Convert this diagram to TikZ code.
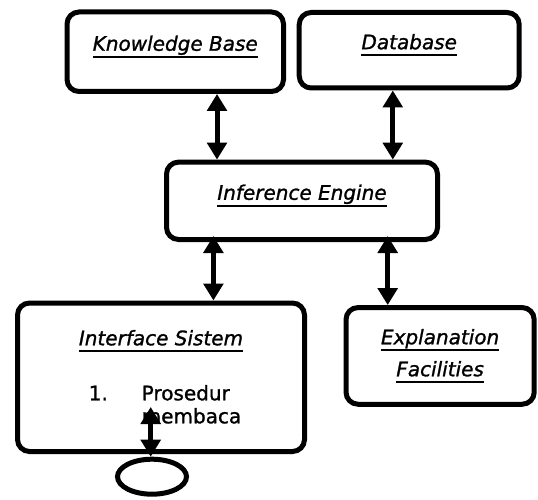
\documentclass[tikz,border=0pt]{standalone}
\usepackage{fontspec}
\setmainfont{DejaVu Sans}[FakeBold=1.2]
\usetikzlibrary{positioning, arrows.meta, shapes.geometric}

% italic title with a thick rule under it
\newsavebox\ulbox
\newlength\uldp
\newcommand{\uword}[1]{\leavevmode\sbox\ulbox{\itshape #1}%
  \setlength\uldp{\dp\ulbox}\ifdim\uldp<3.5pt\setlength\uldp{3.5pt}\fi
  \rlap{\rule[-\dimexpr\uldp+3pt\relax]{\wd\ulbox}{2pt}}\usebox\ulbox}

\begin{document}
\begin{tikzpicture}[
    x=1pt, y=-1pt,
    box/.style={rectangle, draw, line width=5pt, rounded corners=12pt,
                align=center, font=\fontsize{20}{23}\selectfont},
    head/.style={text height=15pt, text depth=17pt},
    arrow/.style={{Triangle[width=19.5pt,length=17pt]}-{Triangle[width=19.5pt,length=17pt]},
                  line width=5pt},
    ring/.style={ellipse, draw, line width=5pt}
]
  \useasboundingbox (0,0) rectangle (538,500);

  % Top row: knowledge base and database
  \node[box, head, minimum width=216.5pt, minimum height=79.5pt] (kb) at (175.25,51.75)
    {\uword{Knowledge Base}};
  \node[box, head, minimum width=220pt, minimum height=75.5pt] (db) at (409.2,50.25)
    {\uword{Database}};

  % Middle: inference engine
  \node[box, head, minimum width=271pt, minimum height=77.4pt] (ie) at (302,200.8)
    {\uword{Inference Engine}};

  % Bottom row: interface and explanation
  \node[box, minimum width=287pt, minimum height=148.5pt] (ui) at (161,377.25)
    {\rule{0pt}{21pt}\uword{Interface Sistem}\\[32pt]
     \hspace*{8pt}\begin{tabular}[t]{@{}p{53pt}@{}l@{}}1. & Prosedur\\ & membaca\end{tabular}};
  \node[box, minimum width=188.2pt, minimum height=96.7pt] (ex) at (440.1,355.9)
    {\uword{Explanation}\\[9pt]\uword{Facilities}};

  % User end
  \node[ring, minimum width=69pt, minimum height=35pt] (user) at (152,476.7) {};

  % Arrows
  \draw[arrow] ([xshift=41.75pt]kb.south) -- ([xshift=41.75pt]kb.south |- ie.north);
  \draw[arrow] ([xshift=-16.4pt]db.south) -- ([xshift=-16.4pt]db.south |- ie.north);
  \draw[arrow] ([xshift=-88.6pt, yshift=6pt]ie.south) -- ([xshift=-88.6pt]ie.south |- ui.north);
  \draw[arrow] ([xshift=85.7pt, yshift=6pt]ie.south) -- ([xshift=85.7pt]ie.south |- ex.north);
  \draw[arrow] ([xshift=-1.3pt]user.north) -- ([xshift=-1.3pt, yshift=47pt]ui.south -| user.north);
\end{tikzpicture}
\end{document}
